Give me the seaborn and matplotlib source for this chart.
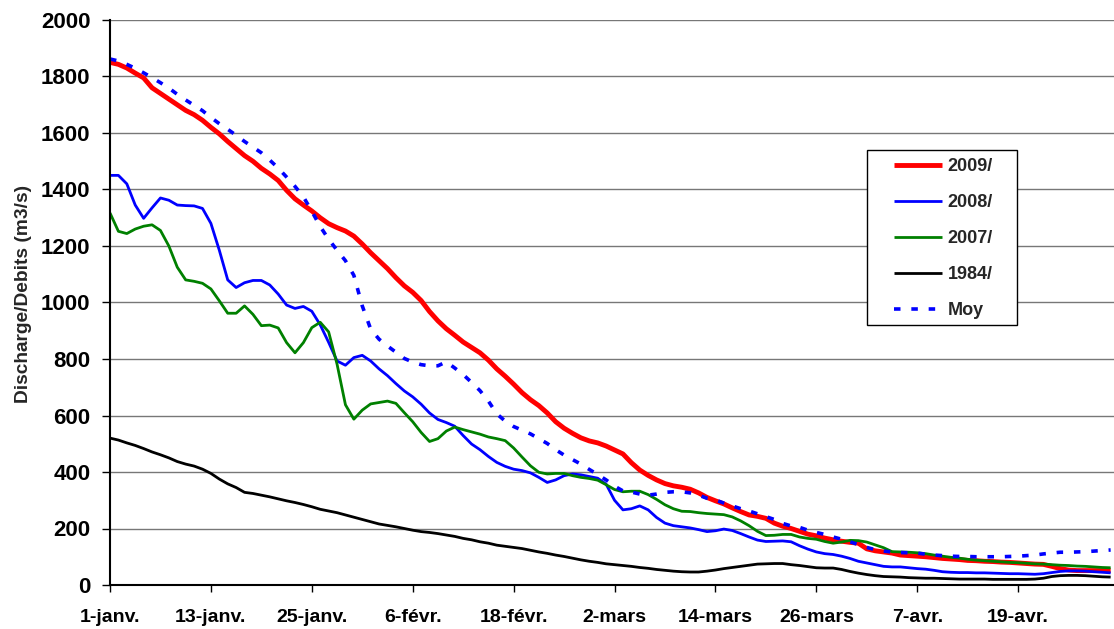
import numpy as np
import pandas as pd
import matplotlib
matplotlib.use('Agg')
import matplotlib.pyplot as plt
import seaborn as sns
from matplotlib.patches import Rectangle

# daily discharge (m3/s), day 0 = 1 January
q2009 = [1850, 1843, 1830, 1812, 1795, 1760, 1740, 1720, 1700, 1680, 1665, 1645, 1620, 1597, 1570, 1545, 1520, 1500, 1475, 1455, 1432,
         1397, 1367, 1345, 1324, 1300, 1279, 1265, 1253, 1235, 1207, 1176, 1148, 1120, 1088, 1059, 1036, 1007, 968, 935, 907,
         884, 860, 841, 822, 796, 765, 739, 711, 681, 656, 635, 609, 578, 555, 537, 521, 510, 503, 492, 478,
         464, 433, 407, 388, 372, 359, 351, 346, 339, 326, 310, 298, 287, 273, 260, 248, 243, 236, 219, 208,
         200, 190, 180, 174, 166, 160, 155, 151, 148, 128, 121, 117, 113, 106, 104, 102, 100, 97, 94, 92,
         90, 87, 86, 84, 83, 81, 80, 78, 76, 74, 73, 66, 58, 53, 51, 51, 51, 51, 51]
q2008 = [1450, 1450, 1420, 1345, 1298, 1335, 1370, 1362, 1345, 1343, 1342, 1333, 1280, 1185, 1080, 1053, 1070, 1078, 1078, 1062, 1030,
         991, 979, 986, 969, 921, 859, 793, 778, 805, 813, 793, 765, 741, 713, 687, 666, 640, 609, 586, 575,
         562, 529, 499, 479, 455, 434, 420, 410, 405, 397, 381, 363, 372, 387, 393, 390, 384, 378, 357, 300,
         266, 270, 280, 266, 239, 219, 210, 206, 202, 196, 189, 192, 198, 193, 182, 170, 159, 154, 155, 156,
         153, 139, 127, 117, 111, 108, 102, 94, 84, 78, 72, 66, 64, 64, 61, 58, 56, 52, 47, 45,
         44, 44, 43, 43, 42, 41, 40, 40, 39, 38, 40, 44, 48, 50, 50, 49, 47, 45, 43]
q2007 = [1317, 1252, 1244, 1260, 1270, 1275, 1255, 1200, 1125, 1080, 1075, 1068, 1048, 1006, 962, 962, 988, 958, 918, 920, 910,
         858, 822, 858, 911, 930, 896, 782, 638, 587, 619, 641, 646, 651, 643, 610, 578, 540, 508, 518, 545,
         559, 550, 542, 534, 524, 518, 511, 485, 453, 422, 399, 393, 395, 395, 387, 381, 377, 371, 355, 338,
         330, 332, 332, 320, 303, 284, 270, 261, 260, 256, 253, 251, 249, 241, 227, 210, 190, 175, 176, 179,
         179, 170, 165, 162, 154, 148, 152, 158, 157, 152, 142, 132, 118, 117, 116, 114, 111, 106, 102, 98,
         95, 91, 88, 86, 84, 82, 80, 79, 77, 75, 74, 72, 70, 69, 67, 66, 64, 62, 61]
q1984 = [520, 513, 503, 494, 483, 471, 461, 450, 437, 428, 421, 410, 395, 375, 358, 345, 328, 324, 318, 312, 305,
         298, 292, 285, 277, 268, 262, 256, 248, 240, 232, 224, 216, 211, 206, 200, 194, 189, 186, 182, 177,
         172, 165, 160, 153, 148, 141, 137, 133, 129, 123, 117, 112, 106, 101, 95, 89, 84, 80, 75, 72,
         69, 66, 62, 59, 55, 52, 49, 47, 46, 46, 49, 53, 58, 62, 66, 70, 74, 75, 76, 76,
         72, 69, 65, 61, 60, 60, 55, 48, 42, 37, 33, 30, 29, 28, 26, 25, 24, 24, 23, 22,
         21, 21, 21, 21, 20, 20, 20, 20, 20, 21, 24, 30, 33, 34, 34, 33, 31, 29, 28]
q_moy = [1862, 1855, 1843, 1829, 1813, 1796, 1778, 1759, 1737, 1717, 1698, 1679, 1655, 1633, 1613, 1592, 1570, 1550, 1530, 1504, 1476,
         1444, 1411, 1374, 1323, 1269, 1224, 1185, 1148, 1096, 988, 906, 870, 846, 824, 802, 789, 780, 776, 776, 790,
         768, 745, 717, 688, 651, 606, 580, 561, 548, 535, 518, 501, 479, 460, 444, 428, 409, 391, 372, 350,
         333, 329, 322, 318, 322, 328, 330, 330, 326, 318, 307, 301, 290, 280, 270, 262, 252, 242, 232, 218,
         209, 204, 194, 186, 179, 170, 162, 153, 143, 133, 125, 120, 117, 115, 114, 113, 109, 106, 104, 102,
         101, 101, 100, 100, 100, 100, 101, 102, 104, 106, 110, 113, 116, 116, 117, 118, 120, 122, 124]

tick_days = [0, 12, 24, 36, 48, 60, 72, 84, 96, 108]
tick_labels = ['1-janv.', '13-janv.', '25-janv.', '6-févr.', '18-févr.', '2-mars',
               '14-mars', '26-mars', '7-avr.', '19-avr.']

df = pd.DataFrame({'day': np.arange(len(q2009)), '2009/': q2009, '2008/': q2008,
                   '2007/': q2007, '1984/': q1984, 'Moy': q_moy})

sns.set_style('white')
plt.rcParams['font.family'] = ['Liberation Sans', 'DejaVu Sans']
plt.rcParams['font.weight'] = 'bold'

fig = plt.figure(figsize=(11.14, 6.29), dpi=100)
ax = fig.add_axes([110 / 1114, 44 / 629, 1004 / 1114, 565 / 629])

styles = {
    '2009/': dict(color='#ff0000', lw=3.5),
    '2008/': dict(color='#0000ff', lw=2.0),
    '2007/': dict(color='#008000', lw=2.0),
    '1984/': dict(color='#000000', lw=2.0),
}
for name, st in styles.items():
    sns.lineplot(data=df, x='day', y=name, ax=ax, label=name, color=st['color'],
                 linewidth=st['lw'], solid_joinstyle='round', solid_capstyle='butt')
sns.lineplot(data=df, x='day', y='Moy', ax=ax, label='Moy', color='#0000ff',
             linewidth=2.6, linestyle=(0, (1.8, 3.0)))

ax.set_xlim(0, 119.4)
ax.set_ylim(0, 2000)
ax.set_yticks(range(0, 2001, 200))
ax.set_xticks(tick_days)
ax.set_xticklabels(tick_labels)
ax.yaxis.grid(True, color='#777777', lw=1.0)
ax.xaxis.grid(False)
ax.set_axisbelow(True)

for s in ['top', 'right']:
    ax.spines[s].set_visible(False)
for s in ['left', 'bottom']:
    ax.spines[s].set_color('#000000')
    ax.spines[s].set_linewidth(1.5)

ax.tick_params(axis='y', left=True, direction='out', length=6, width=1, pad=8,
               labelsize=16, colors='#000000')
ax.tick_params(axis='x', bottom=True, direction='out', length=5, width=1, pad=12,
               labelsize=14, colors='#000000')
for lab in ax.get_xticklabels() + ax.get_yticklabels():
    lab.set_fontweight('bold')

ax.set_xlabel('')
ax.set_ylabel('Discharge/Debits (m3/s)', fontsize=13.8, fontweight='bold', va='center')
ax.yaxis.set_label_coords(-0.0857, 0.515)

# legend box
ax.add_patch(Rectangle((0.754, 0.460), 0.1494, 0.3097, transform=ax.transAxes,
                       facecolor='white', edgecolor='black', lw=1.0, zorder=4.9, clip_on=False))
leg = ax.legend(loc='upper left', bbox_to_anchor=(0.781, 0.755), frameon=False,
                fontsize=13, borderpad=0, borderaxespad=0, handlelength=2.67,
                handletextpad=0.3, labelspacing=1.05)
for t in leg.get_texts():
    t.set_fontweight('bold')
leg.set_zorder(5)

fig.savefig('out.png', dpi=100)
